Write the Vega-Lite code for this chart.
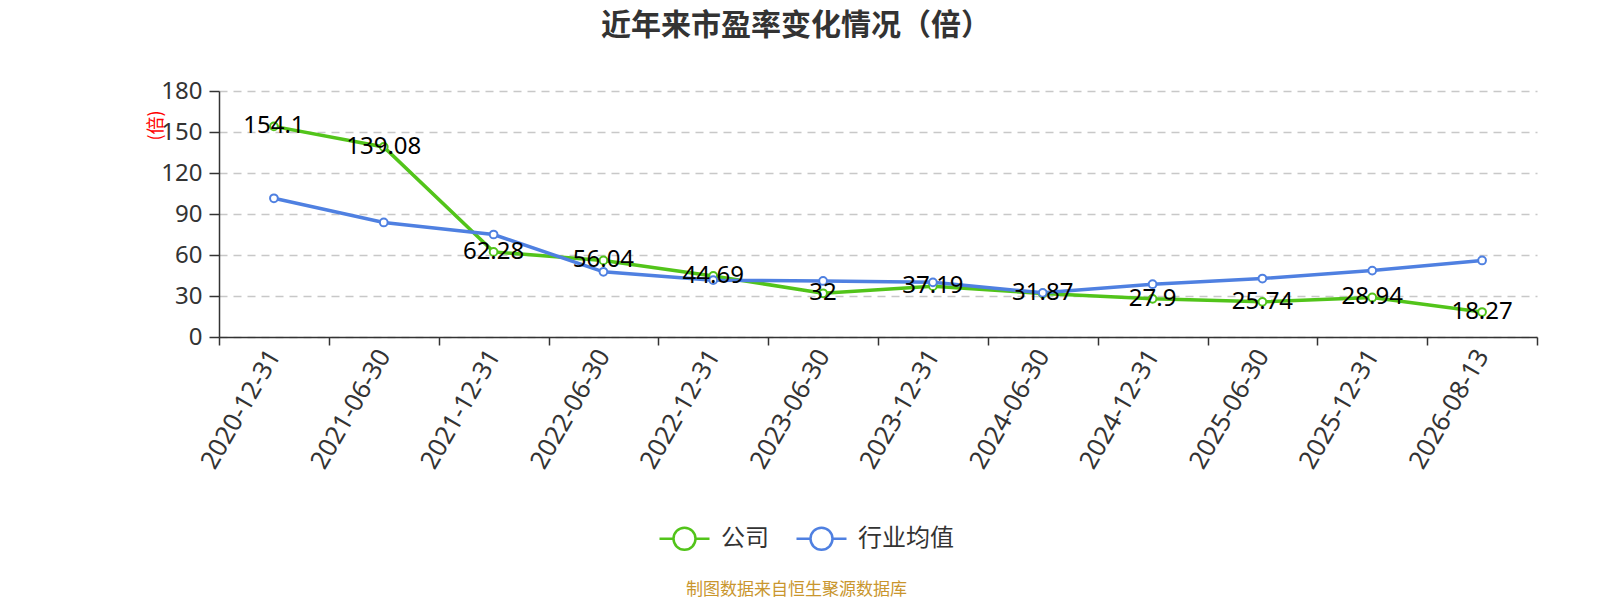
{
  "$schema": "https://vega.github.io/schema/vega-lite/v6.json",
  "description": "近年来市盈率变化情况（倍）",
  "background": "white",
  "autosize": {"type": "none"},
  "padding": {"left": 219, "top": 91, "right": 63, "bottom": 263},
  "width": 1318,
  "height": 246,
  "title": {
    "text": "近年来市盈率变化情况（倍）",
    "font": "Noto Sans CJK SC",
    "fontSize": 30,
    "fontWeight": "bold",
    "color": "#333333",
    "anchor": "middle",
    "dx": -82,
    "offset": 38
  },
  "data": {
    "values": [
      {"date": "2020-12-31", "series": "公司", "value": 154.1},
      {"date": "2021-06-30", "series": "公司", "value": 139.08},
      {"date": "2021-12-31", "series": "公司", "value": 62.28},
      {"date": "2022-06-30", "series": "公司", "value": 56.04},
      {"date": "2022-12-31", "series": "公司", "value": 44.69},
      {"date": "2023-06-30", "series": "公司", "value": 32},
      {"date": "2023-12-31", "series": "公司", "value": 37.19},
      {"date": "2024-06-30", "series": "公司", "value": 31.87},
      {"date": "2024-12-31", "series": "公司", "value": 27.9},
      {"date": "2025-06-30", "series": "公司", "value": 25.74},
      {"date": "2025-12-31", "series": "公司", "value": 28.94},
      {"date": "2026-08-13", "series": "公司", "value": 18.27},
      {"date": "2020-12-31", "series": "行业均值", "value": 101.5},
      {"date": "2021-06-30", "series": "行业均值", "value": 83.8},
      {"date": "2021-12-31", "series": "行业均值", "value": 75.0},
      {"date": "2022-06-30", "series": "行业均值", "value": 47.7},
      {"date": "2022-12-31", "series": "行业均值", "value": 41.6},
      {"date": "2023-06-30", "series": "行业均值", "value": 41.0},
      {"date": "2023-12-31", "series": "行业均值", "value": 40.0},
      {"date": "2024-06-30", "series": "行业均值", "value": 32.3},
      {"date": "2024-12-31", "series": "行业均值", "value": 38.6},
      {"date": "2025-06-30", "series": "行业均值", "value": 42.8},
      {"date": "2025-12-31", "series": "行业均值", "value": 48.6},
      {"date": "2026-08-13", "series": "行业均值", "value": 56.0}
    ]
  },
  "encoding": {
    "x": {
      "field": "date",
      "type": "ordinal",
      "sort": null,
      "scale": {"type": "band", "paddingInner": 0, "paddingOuter": 0},
      "axis": {
        "title": "制图数据来自恒生聚源数据库",
        "titleFont": "Noto Sans CJK SC",
        "titleFontSize": 17,
        "titleFontWeight": "normal",
        "titleColor": "#c9962e",
        "titleX": 577,
        "titleY": 252,
        "titleAlign": "center",
        "titleBaseline": "middle",
        "labelAngle": -60,
        "labelAlign": "right",
        "labelBaseline": "middle",
        "labelFontSize": 25.5,
        "labelColor": "#333333",
        "labelPadding": 6,
        "tickBand": "extent",
        "tickSize": 8,
        "tickColor": "#333333",
        "tickWidth": 1.5,
        "domainColor": "#333333",
        "domainWidth": 1.5,
        "grid": false
      }
    },
    "y": {
      "field": "value",
      "type": "quantitative",
      "scale": {"domain": [0, 180]},
      "axis": {
        "values": [0, 30, 60, 90, 120, 150, 180],
        "title": "(倍)",
        "titleFont": "Noto Sans CJK SC",
        "titleFontSize": 18,
        "titleFontWeight": "normal",
        "titleColor": "#ff0000",
        "titleAngle": -90,
        "titleX": -63,
        "titleY": 34,
        "titleAlign": "center",
        "titleBaseline": "middle",
        "labelFontSize": 24,
        "labelColor": "#333333",
        "labelPadding": 7,
        "tickSize": 10,
        "tickColor": "#333333",
        "tickWidth": 1.5,
        "domainColor": "#333333",
        "domainWidth": 1.5,
        "grid": true,
        "gridColor": "#c8c8c8",
        "gridDash": [8, 6],
        "gridWidth": 1.5
      }
    }
  },
  "layer": [
    {
      "mark": {"type": "line", "strokeWidth": 3.5},
      "encoding": {
        "color": {
          "field": "series",
          "type": "nominal",
          "sort": ["公司", "行业均值"],
          "scale": {"domain": ["公司", "行业均值"], "range": ["#52c41a", "#4f80e1"]},
          "legend": {
            "title": null,
            "orient": "none",
            "direction": "horizontal",
            "legendX": 439,
            "legendY": 421,
            "padding": 0,
            "symbolType": "M-1,0H-0.44M0.44,0H1M-0.44,0A0.44,0.44 0 1,0 0.44,0A0.44,0.44 0 1,0 -0.44,0",
            "symbolSize": 2500,
            "symbolStrokeWidth": 2.5,
            "symbolFillColor": "white",
            "labelFont": "Noto Sans CJK SC",
            "labelFontSize": 24,
            "labelColor": "#333333",
            "labelOffset": 10,
            "columnPadding": 22
          }
        }
      }
    },
    {
      "mark": {"type": "point", "filled": true, "fill": "white", "size": 60, "strokeWidth": 2, "opacity": 1},
      "encoding": {
        "stroke": {
          "field": "series",
          "type": "nominal",
          "scale": {"domain": ["公司", "行业均值"], "range": ["#52c41a", "#4f80e1"]},
          "legend": null
        }
      }
    },
    {
      "transform": [{"filter": "datum.series === '公司'"}],
      "mark": {"type": "text", "font": "Noto Sans", "fontSize": 24, "color": "#000000", "align": "center", "baseline": "middle"},
      "encoding": {
        "text": {"field": "value", "type": "quantitative"}
      }
    }
  ],
  "config": {
    "font": "Noto Sans",
    "view": {"stroke": null}
  }
}
